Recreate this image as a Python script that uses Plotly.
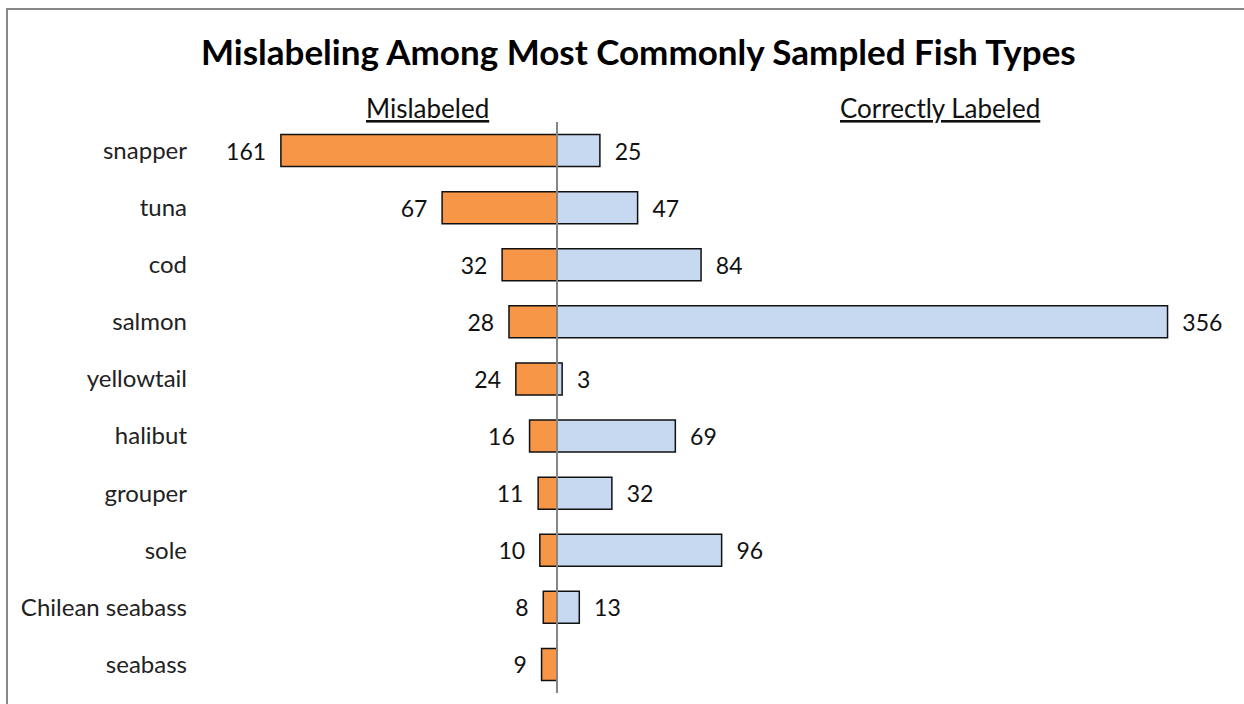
import plotly.graph_objects as go

# Sample counts per fish type
fish = ["snapper", "tuna", "cod", "salmon", "yellowtail", "halibut",
        "grouper", "sole", "Chilean seabass", "seabass"]
mislabeled = [161, 67, 32, 28, 24, 16, 11, 10, 8, 9]
correct = [25, 47, 84, 356, 3, 69, 32, 96, 13, None]

W, H = 1244, 704
L, R, T, B = 198, 14, 122, 11
ZERO_PX = 557          # pixel column of the zero line
PX_PER_UNIT = 1.715
plot_w = W - L - R
x_min = -(ZERO_PX - L) / PX_PER_UNIT
x_max = (W - R - ZERO_PX) / PX_PER_UNIT

FONT = "Lato, Carlito, Calibri, sans-serif"
ORANGE = "#F79646"
BLUE = "#C6D9F1"

fig = go.Figure()
fig.add_trace(go.Bar(
    y=fish, x=[-v for v in mislabeled], orientation="h",
    marker=dict(color=ORANGE, line=dict(color="#111111", width=1.5)),
    text=[f"{v}  " for v in mislabeled], textposition="outside",
    textfont=dict(family=FONT, size=23, color="#111111"),
    cliponaxis=False, name="Mislabeled", hoverinfo="skip",
))
fig.add_trace(go.Bar(
    y=fish, x=correct, orientation="h",
    marker=dict(color=BLUE, line=dict(color="#111111", width=1.5)),
    text=["" if v is None else f"  {v}" for v in correct], textposition="outside",
    textfont=dict(family=FONT, size=23, color="#111111"),
    cliponaxis=False, name="Correctly Labeled", hoverinfo="skip",
))

def px_x(px):
    return (px - L) / plot_w

def px_y(py):
    return 1 - (py - T) / (H - T - B)

frame = dict(color="#888888", width=2)

fig.update_layout(
    width=W, height=H,
    margin=dict(l=L, r=R, t=T, b=B),
    paper_bgcolor="white", plot_bgcolor="white",
    barmode="relative", bargap=0.44,
    showlegend=False,
    font=dict(family=FONT, color="#111111"),
    xaxis=dict(range=[x_min, x_max], visible=False, fixedrange=True),
    yaxis=dict(autorange="reversed", showgrid=False, showline=False,
               zeroline=False, ticks="", ticklabelstandoff=10,
               tickfont=dict(family=FONT, size=24, color="#222222")),
    shapes=[
        # zero line through the bars
        dict(type="line", xref="x", yref="paper", x0=0, x1=0, y0=0, y1=1,
             line=dict(color="#868686", width=2), layer="above"),
        # chart frame (top and left edges)
        dict(type="line", xref="paper", yref="paper",
             x0=px_x(6), x1=px_x(W), y0=px_y(9), y1=px_y(9),
             line=frame, layer="above"),
        dict(type="line", xref="paper", yref="paper",
             x0=px_x(7), x1=px_x(7), y0=px_y(8), y1=px_y(H),
             line=frame, layer="above"),
    ],
    annotations=[
        dict(text="<b>Mislabeling Among Most Commonly Sampled Fish Types</b>",
             xref="paper", yref="paper", x=px_x(638), y=px_y(51),
             xanchor="center", yanchor="middle", showarrow=False,
             font=dict(family=FONT, size=35, color="#000000")),
        dict(text="<u>Mislabeled</u>", xref="paper", yref="paper",
             x=px_x(427), y=px_y(108), xanchor="center", yanchor="middle",
             showarrow=False, font=dict(family=FONT, size=26, color="#111111")),
        dict(text="<u>Correctly Labeled</u>", xref="paper", yref="paper",
             x=px_x(940), y=px_y(108), xanchor="center", yanchor="middle",
             showarrow=False, font=dict(family=FONT, size=26, color="#111111")),
    ],
)

fig.write_html("out.html")
